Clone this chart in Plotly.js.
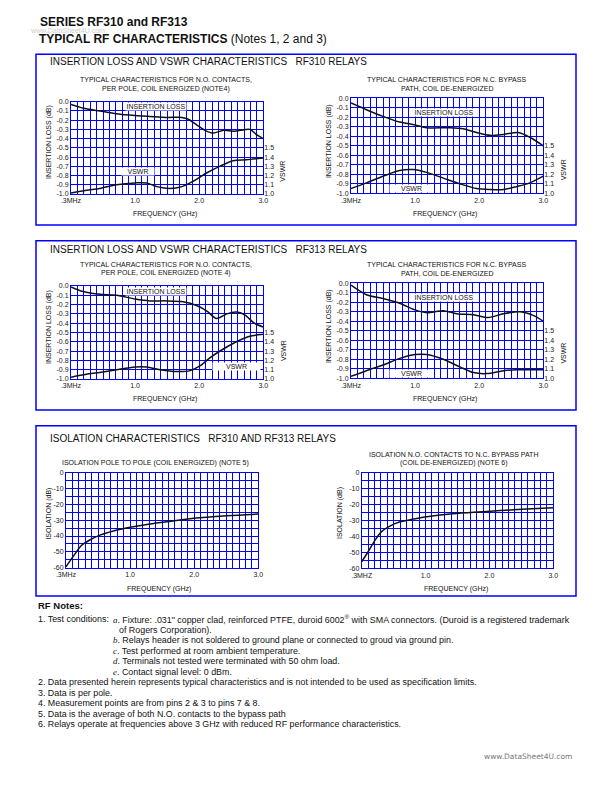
<!DOCTYPE html>
<html><head><meta charset="utf-8">
<script src="https://cdn.plot.ly/plotly-3.0.1.min.js"></script>
<style>html,body{margin:0;padding:0;background:#fff}#chart{width:612px;height:792px}</style>
</head><body><div id="chart"></div>
<script>
// ---------------- DATA ----------------
const xTickVals = [0, 1, 2, 3];
const xTickText = ['.3MHz', '1.0', '2.0', '3.0'];
const xTickText6 = ['.3MHZ', '1.0', '2.0', '3.0'];
const ilTickVals = [0, -0.1, -0.2, -0.3, -0.4, -0.5, -0.6, -0.7, -0.8, -0.9, -1.0];
const ilTickText = ['0.0', '-0.1', '-0.2', '-0.3', '-0.4', '-0.5', '-0.6', '-0.7', '-0.8', '-0.9', '-1.0'];
const vswrTickVals = [1.0, 1.1, 1.2, 1.3, 1.4, 1.5];
const vswrTickText = ['1.0', '1.1', '1.2', '1.3', '1.4', '1.5'];
const isoTickVals = [0, -10, -20, -30, -40, -50, -60];
const isoTickText = ['0', '-10', '-20', '-30', '-40', '-50', '-60'];

// RF310 N.O. contacts (chart 1)
const freqIL1 = [0, 0.19, 0.45, 0.71, 1.0, 1.23, 1.49, 1.73, 1.83, 1.96, 2.09, 2.22, 2.38, 2.53, 2.64, 2.79, 2.90, 3.0];
const il1 = [-0.03, -0.07, -0.10, -0.13, -0.15, -0.16, -0.17, -0.17, -0.19, -0.25, -0.31, -0.34, -0.31, -0.32, -0.31, -0.30, -0.36, -0.40];
const freqVS1 = [0, 0.24, 0.45, 0.71, 1.0, 1.18, 1.34, 1.54, 1.73, 1.91, 2.12, 2.32, 2.53, 2.74, 3.0];
const vswr1 = [1.01, 1.04, 1.06, 1.10, 1.12, 1.12, 1.08, 1.06, 1.08, 1.14, 1.23, 1.30, 1.36, 1.37, 1.39];
// RF310 N.C. bypass (chart 2)
const freqIL2 = [0, 0.24, 0.5, 0.76, 1.0, 1.18, 1.54, 1.75, 1.96, 2.17, 2.38, 2.61, 2.79, 3.0];
const il2 = [-0.05, -0.12, -0.19, -0.25, -0.28, -0.31, -0.31, -0.32, -0.36, -0.39, -0.38, -0.36, -0.41, -0.50];
const freqVS2 = [0, 0.24, 0.5, 0.76, 0.97, 1.18, 1.44, 1.7, 1.96, 2.17, 2.38, 2.58, 2.79, 3.0];
const vswr2 = [1.05, 1.11, 1.18, 1.24, 1.25, 1.22, 1.16, 1.10, 1.05, 1.04, 1.04, 1.07, 1.11, 1.18];
// RF313 N.O. contacts (chart 3)
const freqIL3 = [0, 0.19, 0.45, 0.71, 1.0, 1.23, 1.49, 1.75, 1.96, 2.12, 2.27, 2.43, 2.58, 2.71, 2.86, 3.0];
const il3 = [-0.01, -0.06, -0.09, -0.10, -0.14, -0.16, -0.16, -0.17, -0.21, -0.27, -0.35, -0.30, -0.28, -0.31, -0.40, -0.44];
const freqVS3 = [0, 0.24, 0.45, 0.71, 1.0, 1.18, 1.39, 1.65, 1.86, 2.01, 2.17, 2.37, 2.58, 2.79, 3.0];
const vswr3 = [1.02, 1.05, 1.07, 1.10, 1.13, 1.13, 1.10, 1.08, 1.09, 1.14, 1.23, 1.32, 1.40, 1.46, 1.48];
// RF313 N.C. bypass (chart 4)
const freqIL4 = [0, 0.24, 0.5, 0.76, 1.0, 1.18, 1.44, 1.65, 1.91, 2.14, 2.38, 2.64, 2.85, 3.0];
const il4 = [-0.02, -0.12, -0.16, -0.21, -0.28, -0.31, -0.29, -0.32, -0.33, -0.36, -0.32, -0.30, -0.34, -0.40];
const freqVS4 = [0, 0.24, 0.5, 0.76, 1.0, 1.18, 1.44, 1.7, 1.91, 2.12, 2.38, 2.58, 2.79, 3.0];
const vswr4 = [1.02, 1.08, 1.14, 1.21, 1.25, 1.25, 1.20, 1.12, 1.06, 1.05, 1.08, 1.09, 1.09, 1.09];
// Isolation pole to pole (chart 5)
const freqISO5 = [0, 0.11, 0.24, 0.37, 0.53, 0.74, 1.0, 1.31, 1.57, 1.99, 2.51, 3.0];
const iso5 = [-59.4, -53, -46, -42.5, -39.4, -36.8, -34.5, -32.4, -31, -28.8, -27.2, -26.1];
// Isolation N.O. to N.C. bypass (chart 6)
const freqISO6 = [0, 0.10, 0.21, 0.31, 0.44, 0.6, 0.81, 1.02, 1.38, 1.75, 2.17, 2.58, 3.0];
const iso6 = [-55.9, -49.6, -42.3, -37, -33.5, -30.8, -29.1, -27.6, -25.9, -24.9, -23.8, -22.8, -22];

// ---------------- LAYOUT HELPERS ----------------
const W = 612, H = 792;
const BLUE = '#0000ff';
const F = 'Liberation Sans, Arial, Helvetica, sans-serif';
const TXT = '#111';
const GW = 1;

function xAxis(x0, x1, anchor, ticktext) {
  return {
    domain: [x0 / W, x1 / W], range: [0, 3], anchor: anchor,
    tickmode: 'array', tickvals: xTickVals, ticktext: ticktext,
    tickfont: {family: F, size: 7, color: '#222'},
    showgrid: true, gridcolor: BLUE, gridwidth: GW,
    minor: {tick0: 0, dtick: 0.1, showgrid: true, gridcolor: BLUE, gridwidth: GW, ticks: ''},
    showline: true, linecolor: BLUE, linewidth: GW, mirror: true,
    zeroline: false, ticks: '', fixedrange: true
  };
}
function ilAxis(yt, yb, anchor) {
  return {
    domain: [1 - yb / H, 1 - yt / H], range: [-1, 0], anchor: anchor,
    tickmode: 'array', tickvals: ilTickVals, ticktext: ilTickText,
    tickfont: {family: F, size: 7, color: '#222'},
    showgrid: true, gridcolor: BLUE, gridwidth: GW,
    showline: true, linecolor: BLUE, linewidth: GW, mirror: true,
    zeroline: false, ticks: '', fixedrange: true
  };
}
function vsAxis(over, anchor) {
  return {
    overlaying: over, side: 'right', anchor: anchor, range: [1, 2],
    tickmode: 'array', tickvals: vswrTickVals, ticktext: vswrTickText,
    tickfont: {family: F, size: 7, color: '#222'},
    showgrid: false, zeroline: false, showline: false, ticks: '', fixedrange: true
  };
}
function isoAxis(yt, yb, anchor) {
  return {
    domain: [1 - yb / H, 1 - yt / H], range: [-60, 0], anchor: anchor,
    tickmode: 'array', tickvals: isoTickVals, ticktext: isoTickText,
    tickfont: {family: F, size: 7, color: '#222'},
    showgrid: true, gridcolor: BLUE, gridwidth: GW,
    minor: {tick0: 0, dtick: 5, showgrid: true, gridcolor: BLUE, gridwidth: GW, ticks: ''},
    showline: true, linecolor: BLUE, linewidth: GW, mirror: true,
    zeroline: false, ticks: '', fixedrange: true
  };
}
function ann(text, x, y, size, opts) {
  return Object.assign({
    text: text, x: x / W, y: 1 - y / H, xref: 'paper', yref: 'paper',
    showarrow: false, xanchor: 'center', yanchor: 'middle',
    font: {family: F, size: size, color: TXT}
  }, opts || {});
}
function lbl(text, x, y, w) {
  return ann(text, x, y, 7, {bgcolor: '#ffffff', width: w, height: 7, borderpad: 0});
}
function line(x, y, xa, ya) {
  return {x: x, y: y, xaxis: xa, yaxis: ya, mode: 'lines', hoverinfo: 'skip',
    line: {color: '#111', width: 1.5, shape: 'spline', smoothing: 0.8}, showlegend: false};
}

const traces = [
  line(freqIL1, il1, 'x', 'y'), line(freqVS1, vswr1, 'x', 'y7'),
  line(freqIL2, il2, 'x2', 'y2'), line(freqVS2, vswr2, 'x2', 'y8'),
  line(freqIL3, il3, 'x3', 'y3'), line(freqVS3, vswr3, 'x3', 'y9'),
  line(freqIL4, il4, 'x4', 'y4'), line(freqVS4, vswr4, 'x4', 'y10'),
  line(freqISO5, iso5, 'x5', 'y5'), line(freqISO6, iso6, 'x6', 'y6')
];

const sp = '\u00a0\u00a0\u00a0';
const NS = 8.9;
const it = l => '<span style="font-family:\'Liberation Serif\',serif"><i>' + l + '</i></span>. ';
const annotations = [
  // page headers
  ann('<b>SERIES RF310 and RF313</b>', 37.5, 21.7, 12, {xanchor: 'left'}),
  ann('www.DataSheet4U.com', 28.3, 30.7, 7, {xanchor: 'left', font: {family: F, size: 7, color: '#cfcfcf'}}),
  ann('<b>TYPICAL RF CHARACTERISTICS</b> (Notes 1, 2 and 3)', 36.5, 39.3, 12, {xanchor: 'left'}),
  // panel titles
  ann('INSERTION LOSS AND VSWR CHARACTERISTICS' + sp + 'RF310 RELAYS', 47.5, 61.5, 10, {xanchor: 'left'}),
  ann('INSERTION LOSS AND VSWR CHARACTERISTICS' + sp + 'RF313 RELAYS', 47.5, 249.3, 10, {xanchor: 'left'}),
  ann('ISOLATION CHARACTERISTICS' + sp + 'RF310 AND RF313 RELAYS', 47.5, 438.3, 10, {xanchor: 'left'}),
  // chart subtitles
  ann('TYPICAL CHARACTERISTICS FOR N.O. CONTACTS,', 165.8, 80, 7),
  ann('PER POLE, COIL ENERGIZED (NOTE4)', 165.8, 89, 7),
  ann('TYPICAL CHARACTERISTICS FOR N.C. BYPASS', 446.7, 79.3, 7),
  ann('PATH, COIL DE-ENERGIZED', 446.7, 88.3, 7),
  ann('TYPICAL CHARACTERISTICS FOR N.O. CONTACTS,', 165.8, 264.3, 7),
  ann('PER POLE, COIL ENERGIZED (NOTE 4)', 165.8, 273.3, 7),
  ann('TYPICAL CHARACTERISTICS FOR N.C. BYPASS', 446.7, 264.3, 7),
  ann('PATH, COIL DE-ENERGIZED', 446.7, 273.3, 7),
  ann('ISOLATION POLE TO POLE (COIL ENERGIZED) (NOTE 5)', 155.8, 462.7, 7),
  ann('ISOLATION N.O. CONTACTS TO N.C. BYPASS PATH', 453.8, 454.3, 7),
  ann('(COIL DE-ENERGIZED) (NOTE 6)', 453.8, 463.3, 7),
  // x titles
  ann('FREQUENCY (GHz)', 164.7, 214.3, 7),
  ann('FREQUENCY (GHz)', 444.7, 214, 7),
  ann('FREQUENCY (GHz)', 164.7, 399.3, 7),
  ann('FREQUENCY (GHz)', 444.7, 399.3, 7),
  ann('FREQUENCY (GHz)', 159, 589.3, 7),
  ann('FREQUENCY (GHz)', 455.8, 589.3, 7),
  // y titles
  ann('INSERTION LOSS (dB)', 48.3, 141.7, 7, {textangle: -90}),
  ann('INSERTION LOSS (dB)', 328.3, 140.8, 7, {textangle: -90}),
  ann('INSERTION LOSS (dB)', 48.3, 326.7, 7, {textangle: -90}),
  ann('INSERTION LOSS (dB)', 328.3, 325.8, 7, {textangle: -90}),
  ann('ISOLATION (dB)', 49.3, 513.3, 7, {textangle: -90}),
  ann('ISOLATION (dB)', 340.7, 513.3, 7, {textangle: -90}),
  ann('VSWR', 283, 171.7, 7, {textangle: -90}),
  ann('VSWR', 563.3, 170, 7, {textangle: -90}),
  ann('VSWR', 283.3, 350.8, 7, {textangle: -90}),
  ann('VSWR', 563.3, 353.3, 7, {textangle: -90}),
  // in-plot curve labels
  lbl('INSERTION LOSS', 155.5, 106.7, 60),
  lbl('VSWR', 137.5, 171.7, 32),
  lbl('INSERTION LOSS', 444, 112.5, 60),
  lbl('VSWR', 411.7, 188.7, 43),
  lbl('INSERTION LOSS', 155.8, 291.3, 60),
  lbl('VSWR', 236.7, 366.3, 47),
  lbl('INSERTION LOSS', 444, 297.5, 60),
  lbl('VSWR', 411.7, 373.3, 43),
  // notes
  ann('<b>RF Notes:</b>', 36, 605.7, 9.5, {xanchor: 'left'}),
  ann('1. Test conditions:', 36.2, 619, NS, {xanchor: 'left'}),
  ann(it('a') + 'Fixture: .031" copper clad, reinforced PTFE, duroid 6002<sup>\u00ae</sup> with SMA connectors. (Duroid is a registered trademark', 110.5, 619, NS, {xanchor: 'left'}),
  ann('of Rogers Corporation).', 117, 629.5, NS, {xanchor: 'left'}),
  ann(it('b') + 'Relays header is not soldered to ground plane or connected to groud via ground pin.', 110.5, 640, NS, {xanchor: 'left'}),
  ann(it('c') + 'Test performed at room ambient temperature.', 110.5, 650.5, NS, {xanchor: 'left'}),
  ann(it('d') + 'Terminals not tested were terminated with 50 ohm load.', 110.5, 661, NS, {xanchor: 'left'}),
  ann(it('e') + 'Contact signal level: 0 dBm.', 110.5, 671.5, NS, {xanchor: 'left'}),
  ann('2. Data presented herein represents typical characteristics and is not intended to be used as specification limits.', 36.2, 682, NS, {xanchor: 'left'}),
  ann('3. Data is per pole.', 36.2, 692.5, NS, {xanchor: 'left'}),
  ann('4. Measurement points are from pins 2 &amp; 3 to pins 7 &amp; 8.', 36.2, 703, NS, {xanchor: 'left'}),
  ann('5. Data is the average of both N.O. contacts to the bypass path', 36.2, 713.5, NS, {xanchor: 'left'}),
  ann('6. Relays operate at frequencies above 3 GHz with reduced RF performance characteristics.', 36.2, 724, NS, {xanchor: 'left'}),
  ann('www.DataSheet4U.com', 481.7, 756.7, 7.5, {xanchor: 'left', font: {family: 'DejaVu Sans, sans-serif', size: 7.5, color: '#777'}})
];

function box(yt, yb) {
  return {type: 'rect', xref: 'paper', yref: 'paper', x0: 36 / W, x1: 576 / W,
    y0: 1 - yb / H, y1: 1 - yt / H, line: {color: BLUE, width: 1.5}};
}

const layout = {
  width: W, height: H, margin: {l: 0, r: 0, t: 0, b: 0},
  paper_bgcolor: '#ffffff', plot_bgcolor: '#ffffff', showlegend: false,
  font: {family: F, color: TXT}, hovermode: false,
  xaxis: xAxis(71, 263.3, 'y', xTickText),
  xaxis2: xAxis(351, 543.3, 'y2', xTickText),
  xaxis3: xAxis(71, 263.3, 'y3', xTickText),
  xaxis4: xAxis(351, 543.3, 'y4', xTickText),
  xaxis5: xAxis(66, 258.3, 'y5', xTickText),
  xaxis6: xAxis(361.7, 553.3, 'y6', xTickText6),
  yaxis: ilAxis(101.7, 194, 'x'),
  yaxis2: ilAxis(98.3, 193.3, 'x2'),
  yaxis3: ilAxis(286, 379, 'x3'),
  yaxis4: ilAxis(283.3, 378.3, 'x4'),
  yaxis5: isoAxis(472.7, 567.7, 'x5'),
  yaxis6: isoAxis(472.7, 568.3, 'x6'),
  yaxis7: vsAxis('y', 'x'),
  yaxis8: vsAxis('y2', 'x2'),
  yaxis9: vsAxis('y3', 'x3'),
  yaxis10: vsAxis('y4', 'x4'),
  shapes: [box(54.3, 225), box(240.7, 410), box(425.7, 596)],
  annotations: annotations
};

Plotly.newPlot('chart', traces, layout, {displayModeBar: false});
</script>
</body></html>
